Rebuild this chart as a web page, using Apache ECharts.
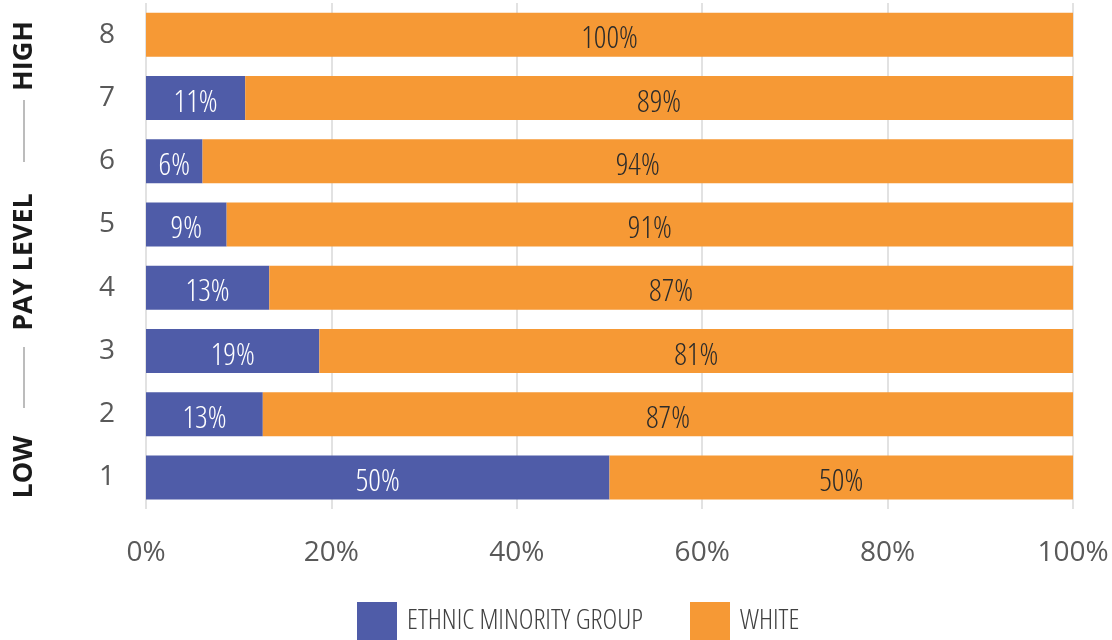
<!DOCTYPE html>
<html>
<head>
<meta charset="utf-8">
<script src="https://cdn.jsdelivr.net/npm/echarts@6/dist/echarts.min.js"></script>
<style>
  html, body { margin: 0; padding: 0; background: #fff; }
  #chart { width: 1112px; height: 640px; }
</style>
</head>
<body>
<div id="chart"></div>
<script>
// pay levels, bottom to top
const payLevels = ['1', '2', '3', '4', '5', '6', '7', '8']
// share of staff (%)
const minority = [50, 12.6, 18.7, 13.3, 8.7, 6.1, 10.7, 0]
const white = [50, 87.4, 81.3, 86.7, 91.3, 93.9, 89.3, 100]
const seriesNames = ['ETHNIC MINORITY GROUP', 'WHITE']
const xTicks = [0, 20, 40, 60, 80, 100]

const blue = '#4f5ca8'
const orange = '#f69935'
// Open Sans condensed light, via font-stretch in the canvas font string
const lightCondensed = '300 condensed'

const chart = echarts.init(document.getElementById('chart'))

const pctLabel = (p) => (p.value > 0 ? Math.round(p.value) + '%' : '')

const legendText = {
  fontFamily: '"Open Sans", sans-serif',
  fontWeight: lightCondensed,
  fontSize: 28,
  color: '#404040',
  padding: [0, 0, 0, 5]
}

const barLabel = {
  show: true,
  position: 'inside',
  offset: [0, 5],
  formatter: pctLabel,
  fontFamily: '"Open Sans", sans-serif',
  fontWeight: lightCondensed,
  fontSize: 31
}

const option = {
  animation: false,
  grid: {
    left: 146,
    right: 39,
    top: 3,
    height: 506
  },
  xAxis: {
    type: 'value',
    min: xTicks[0],
    max: xTicks[xTicks.length - 1],
    interval: 20,
    axisLine: { show: false },
    axisTick: { show: false },
    axisLabel: {
      formatter: '{value}%',
      fontFamily: '"Open Sans", sans-serif',
      fontSize: 28,
      color: '#595959',
      margin: 30
    },
    splitLine: { lineStyle: { color: '#d9d9d9', width: 1.5 } }
  },
  yAxis: {
    type: 'category',
    data: payLevels,
    axisLine: { show: false },
    axisTick: { show: false },
    axisLabel: {
      fontFamily: '"Open Sans", sans-serif',
      fontSize: 28,
      color: '#595959',
      margin: 31
    }
  },
  legend: [
    {
      data: [seriesNames[0]],
      left: 357,
      top: 602,
      padding: 0,
      itemWidth: 40,
      itemHeight: 38,
      icon: 'rect',
      textStyle: legendText
    },
    {
      data: [seriesNames[1]],
      left: 690,
      top: 602,
      padding: 0,
      itemWidth: 40,
      itemHeight: 38,
      icon: 'rect',
      textStyle: legendText
    }
  ],
  series: [
    {
      name: seriesNames[0],
      type: 'bar',
      stack: 'pay',
      barWidth: 44,
      data: minority,
      itemStyle: { color: blue },
      label: Object.assign({}, barLabel, { color: '#fff' })
    },
    {
      name: seriesNames[1],
      type: 'bar',
      stack: 'pay',
      barWidth: 44,
      data: white,
      itemStyle: { color: orange },
      label: Object.assign({}, barLabel, { color: '#2b2b2b' })
    }
  ],
  graphic: [
    { type: 'text', x: 24, y: 467, rotation: Math.PI / 2,
      style: { text: 'LOW', font: 'bold 27px "Open Sans", sans-serif', fill: '#1a1a1a', textAlign: 'center', textVerticalAlign: 'middle' } },
    { type: 'line', shape: { x1: 24, y1: 347, x2: 24, y2: 408 },
      style: { stroke: '#a6a6a6', lineWidth: 1.5 } },
    { type: 'text', x: 24, y: 262, rotation: Math.PI / 2,
      style: { text: 'PAY LEVEL', font: 'bold 27px "Open Sans", sans-serif', fill: '#1a1a1a', textAlign: 'center', textVerticalAlign: 'middle' } },
    { type: 'line', shape: { x1: 24, y1: 100, x2: 24, y2: 162 },
      style: { stroke: '#a6a6a6', lineWidth: 1.5 } },
    { type: 'text', x: 24, y: 56, rotation: Math.PI / 2,
      style: { text: 'HIGH', font: 'bold 27px "Open Sans", sans-serif', fill: '#1a1a1a', textAlign: 'center', textVerticalAlign: 'middle' } }
  ]
}

chart.setOption(option)
window.addEventListener('resize', function () {
  chart.resize()
})
</script>
</body>
</html>
